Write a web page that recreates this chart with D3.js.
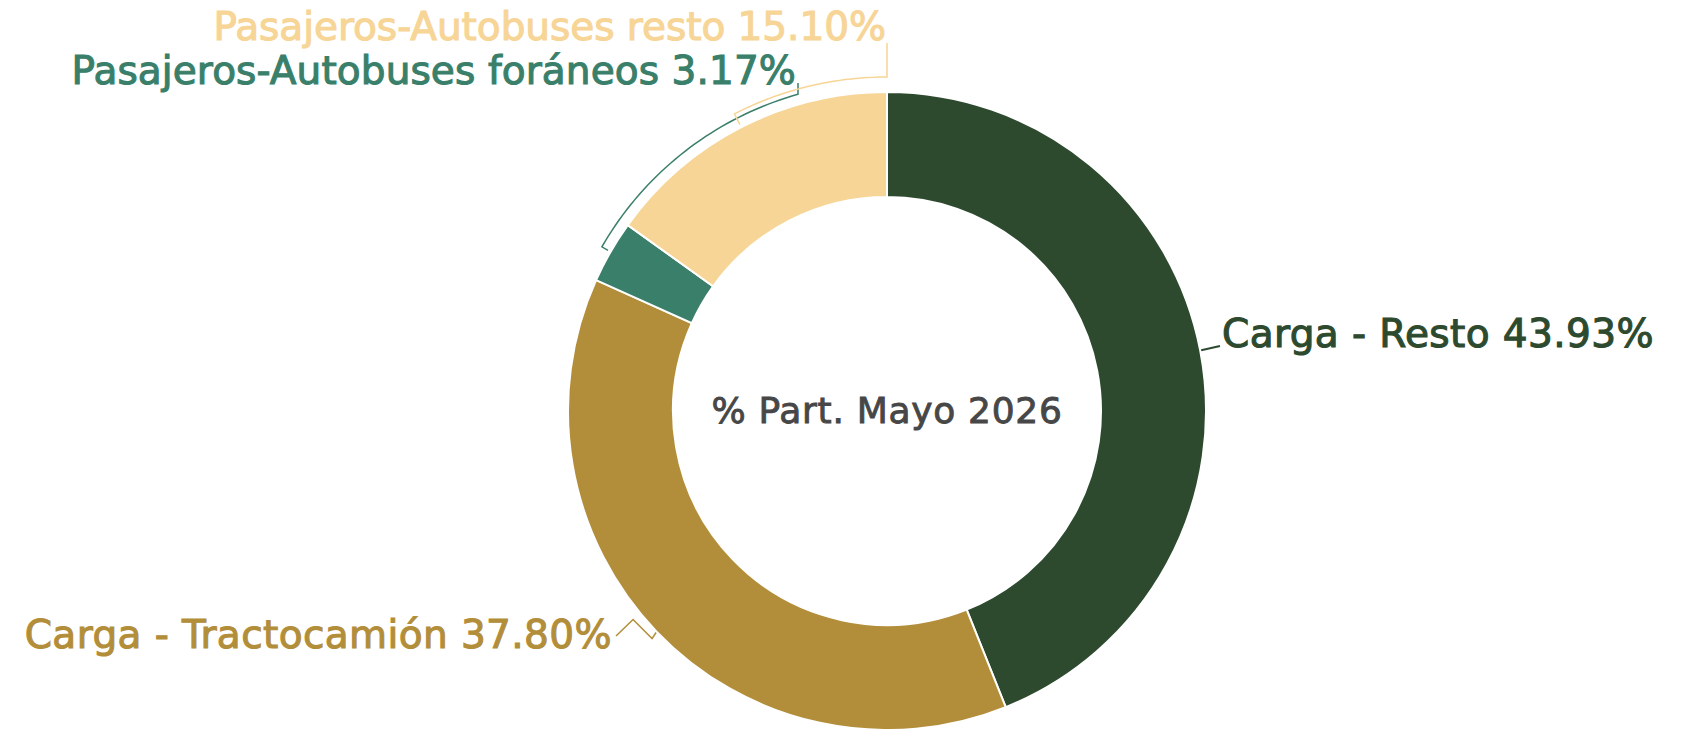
<!DOCTYPE html>
<html>
<head>
<meta charset="utf-8">
<style>
body { margin: 0; background: #ffffff; }
.lbl { font-family: "DejaVu Sans", sans-serif; font-size: 39px; stroke-width: 1.1px; }
.title { font-family: "DejaVu Sans", sans-serif; font-size: 36px; fill: #474747; stroke: #474747; stroke-width: 0.9px; letter-spacing: 0.7px; }
</style>
<script src="https://d3js.org/d3.v7.min.js"></script>
</head>
<body>
<script>

var categories = ["Carga - Resto", "Carga - Tractocamión", "Pasajeros-Autobuses foráneos", "Pasajeros-Autobuses resto"];
var shares = [43.93, 37.80, 3.17, 15.10];
var colors = ["#2d4a2f", "#b38e3a", "#3a7f6a", "#f7d596"];
var title = "% Part. Mayo 2026";

var width = 1699, height = 729;
var cx = 887, cy = 411;
var R = 319, r = 214;

var svg = d3.select("body").append("svg")
    .attr("width", width)
    .attr("height", height);

var g = svg.append("g").attr("transform", "translate(" + cx + "," + cy + ")");

var data = categories.map(function(c, i) { return { name: c, value: shares[i], color: colors[i] }; });

var pie = d3.pie().sort(null).value(function(d) { return d.value; });
var arc = d3.arc().innerRadius(r).outerRadius(R);
var arcs = pie(data);

g.selectAll("path.slice")
  .data(arcs)
  .enter().append("path")
  .attr("class", "slice")
  .attr("d", arc)
  .attr("fill", function(d) { return d.data.color; })
  .attr("stroke", "#ffffff")
  .attr("stroke-width", 2);

g.append("text")
  .attr("class", "title")
  .attr("text-anchor", "middle")
  .attr("y", 12)
  .text(title);

// point at angle a (radians, clockwise from top), radius rad
function pt(a, rad) { return [Math.sin(a) * rad, -Math.cos(a) * rad]; }
function mid(d) { return (d.startAngle + d.endAngle) / 2; }

var line = d3.line();

// label anchors, relative to the centre
var labelPos = [
  { x: 1222 - cx, y: 347 - cy, anchor: "start", ls: 0.4 },
  { x: 612 - cx, y: 648 - cy, anchor: "end", ls: 0.4 },
  { x: 796 - cx, y: 84 - cy, anchor: "end", ls: 0.1 },
  { x: 886 - cx, y: 40 - cy, anchor: "end", ls: -0.05 }
];

arcs.forEach(function(d, i) {
  var lp = labelPos[i];
  g.append("text")
    .attr("class", "lbl")
    .attr("x", lp.x)
    .attr("y", lp.y)
    .attr("text-anchor", lp.anchor)
    .attr("fill", d.data.color)
    .attr("stroke", d.data.color)
    .style("letter-spacing", lp.ls + "px")
    .text(d.data.name + " " + d.data.value.toFixed(2) + "%");
});

// Carga - Resto: straight connector
(function() {
  var d = arcs[0];
  var p0 = pt(mid(d), R + 1);
  g.append("path")
    .attr("d", line([p0, [labelPos[0].x - 2, labelPos[0].y - 1]]))
    .attr("fill", "none").attr("stroke", d.data.color).attr("stroke-width", 2);
})();

// Carga - Tractocamión: crooked connector
(function() {
  var d = arcs[1];
  var p0 = pt(mid(d), R + 1);
  var pts = [p0, [p0[0] - 4, p0[1] + 6], [p0[0] - 23, p0[1] - 13], [labelPos[1].x + 4, labelPos[1].y - 12]];
  g.append("path")
    .attr("d", line(pts))
    .attr("fill", "none").attr("stroke", d.data.color).attr("stroke-width", 1.5);
})();

// bracket connectors running along the ring
function bracket(d, rad, endAngle, topY) {
  var a0 = mid(d);
  var hook = pt(a0, R + 3);
  var arcPts = [];
  var n = 40;
  for (var k = 0; k <= n; k++) {
    arcPts.push(pt(a0 + (endAngle - a0) * k / n, rad));
  }
  var last = arcPts[arcPts.length - 1];
  var pts = [hook].concat(arcPts).concat([[last[0], topY]]);
  g.append("path")
    .attr("d", line(pts))
    .attr("fill", "none").attr("stroke", d.data.color).attr("stroke-width", 1.5);
}

// foráneos: arc until x reaches the end of its label
var teal = arcs[2];
var tealRad = R + 10;
var tealEnd = 2 * Math.PI + Math.asin((labelPos[2].x + 2) / tealRad);
bracket(teal, tealRad, tealEnd, labelPos[2].y - 1);

var tan = arcs[3];
bracket(tan, R + 15, tan.endAngle, labelPos[3].y + 3);

</script>
</body>
</html>
